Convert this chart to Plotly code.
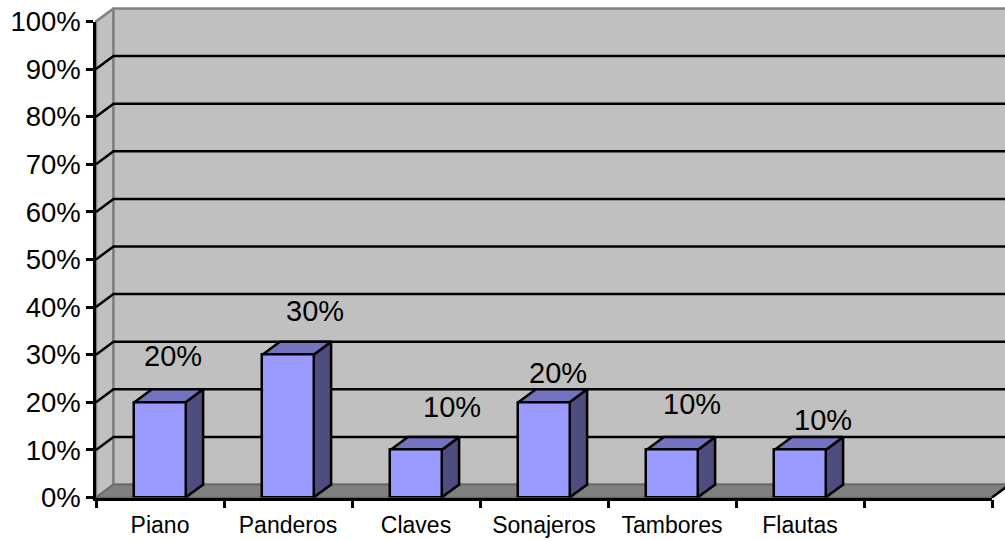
import plotly.graph_objects as go

categories = ["Piano", "Panderos", "Claves", "Sonajeros", "Tambores", "Flautas", " "]
values = [20, 30, 10, 20, 10, 10]
y_ticks = list(range(0, 101, 10))
# label offsets from bar top centre (px): the 3D chart places these irregularly
label_dx = [13, 27, 36, 14, 20, 23]
label_dy = [46, 44, 43, 29, 46, 30]

W, H = 1005, 540
L, R, T, B = 96, 992, 21.5, 497.5
PX_X = (R - L) / 7
PX_Y = (B - T) / 100
DX = 17.5 / PX_X
DY = 13 / PX_Y
BAR_W = 0.4

WALL = "#C0C0C0"; EDGE = "#808080"; FLOOR = "#808080"
FRONT = "#9999FF"; TOP = "#7373BF"; SIDE = "#4D4D80"; INK = "#000000"
FONT = "Liberation Sans, Arial, sans-serif"
LW = 2.5

fig = go.Figure()

def poly(xs, ys, fill, line=INK, lw=LW):
    fig.add_trace(go.Scatter(x=xs + xs[:1], y=ys + ys[:1], mode="lines", fill="toself",
                             fillcolor=fill, line=dict(color=line, width=lw),
                             hoverinfo="skip", showlegend=False, xaxis="x", yaxis="y"))

def seg(xs, ys, color=INK, lw=LW):
    fig.add_trace(go.Scatter(x=xs, y=ys, mode="lines", line=dict(color=color, width=lw),
                             hoverinfo="skip", showlegend=False, xaxis="x", yaxis="y"))

# walls and floor
poly([0, DX, DX, 0], [0, DY, 100 + DY, 100], WALL, EDGE)
poly([DX, 7 + DX, 7 + DX, DX], [DY, DY, 100 + DY, 100 + DY], WALL, EDGE)
poly([0, 7, 7 + DX, DX], [0, 0, DY, DY], FLOOR, "#666666", 1.5)
for v in y_ticks[1:-1]:
    seg([0, DX, 7 + DX], [v, v + DY, v + DY])
seg([7, 7 + DX], [0, DY], INK, LW)

# depth faces of each bar, derived from the values
for i, v in enumerate(values):
    x0, x1 = i + 0.5 - BAR_W / 2, i + 0.5 + BAR_W / 2
    poly([x1, x1 + DX, x1 + DX, x1], [0, DY, v + DY, v], SIDE)
    poly([x0, x1, x1 + DX, x0 + DX], [v, v, v + DY, v + DY], TOP)

# front faces on the real category axis
fig.add_trace(go.Bar(x=categories[:len(values)], y=values, width=BAR_W,
                     marker=dict(color=FRONT, line=dict(color=INK, width=LW)),
                     hoverinfo="skip", showlegend=False, xaxis="x2", yaxis="y2"))

annotations = [
    dict(x=c, y=v, xref="x2", yref="y2", text=f"{v}%", showarrow=False,
         xshift=dx, yshift=dy, font=dict(family=FONT, size=29, color=INK))
    for c, v, dx, dy in zip(categories, values, label_dx, label_dy)
]

fig.update_layout(
    width=W, height=H, margin=dict(l=0, r=0, t=0, b=0, autoexpand=False),
    paper_bgcolor="white", plot_bgcolor="rgba(0,0,0,0)", showlegend=False,
    annotations=annotations, bargap=0,
    xaxis=dict(visible=False, domain=[0, 1], range=[-L / PX_X, (W - L) / PX_X], fixedrange=True),
    yaxis=dict(visible=False, domain=[0, 1], range=[(B - H) / PX_Y, B / PX_Y], fixedrange=True),
    xaxis2=dict(domain=[L / W, R / W], anchor="y2", type="category", categoryorder="array",
                categoryarray=categories, range=[-0.5, 6.5], tickmode="linear", dtick=1,
                tickson="boundaries", ticks="outside", ticklen=8, tickwidth=LW, tickcolor=INK,
                showgrid=False, zeroline=False, showline=True, linecolor=INK, linewidth=LW,
                tickfont=dict(family=FONT, size=23, color=INK), fixedrange=True, tickangle=0,
                ticklabelstandoff=5),
    yaxis2=dict(domain=[(H - B) / H, (H - T) / H], anchor="x2", range=[0, 100],
                tickmode="array", tickvals=y_ticks, ticktext=[f"{v}%" for v in y_ticks],
                ticks="outside", ticklen=7, tickwidth=LW, tickcolor=INK,
                showgrid=False, zeroline=False, showline=True, linecolor=INK, linewidth=LW,
                tickfont=dict(family=FONT, size=27.5, color=INK), fixedrange=True),
)

fig.write_html("out.html", config={"displayModeBar": False},
               post_script="document.body.style.margin='0';document.body.style.overflow='hidden';")
